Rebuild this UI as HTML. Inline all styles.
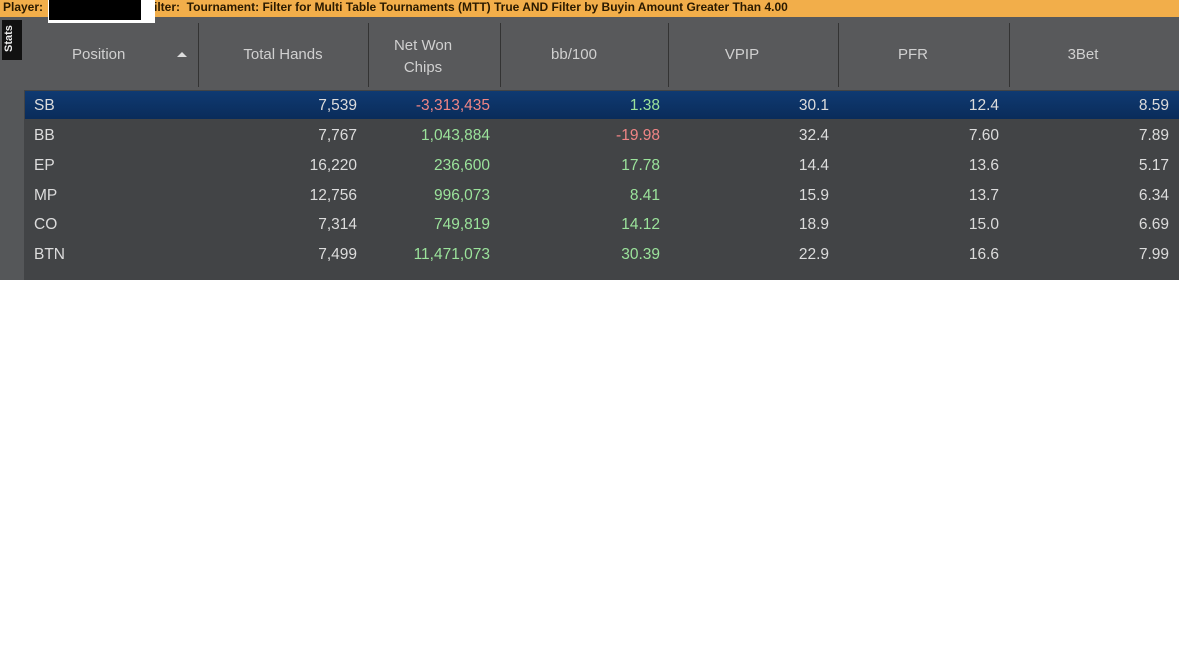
<!DOCTYPE html>
<html><head><meta charset="utf-8"><style>
body{margin:0;width:1179px;height:648px;background:#fff;position:relative;overflow:hidden;font-family:"Liberation Sans",sans-serif;}
.a{position:absolute;}
#top{left:0;top:0;width:1179px;height:17px;background:#f2ae4a;font-size:12px;font-weight:bold;color:#2a1a00;line-height:14px;}
#hdr{left:0;top:17px;width:1179px;height:73px;background:#58595b;}
#body{left:0;top:90px;width:1179px;height:190px;background:#424446;}
#strip{left:0;top:90px;width:24px;height:190px;background:#555759;}
.sep{top:23px;width:1px;height:64px;background:#333;}
.h{color:#d0d0d0;font-size:15px;text-align:center;}
.c{font-size:15.5px;color:#dcdcdc;text-align:right;width:120px;line-height:18px;}
.g{color:#9be39b;}.r{color:#f08585;}
.l{font-size:15.5px;color:#dcdcdc;line-height:18px;}
#sel{left:25px;top:91px;width:1154px;height:28px;background:linear-gradient(#0f3a72,#0a2c5a);}
</style></head><body>
<div class="a" id="top"><span style="position:absolute;left:3px;top:0">Player:</span><span style="position:absolute;left:140px;top:0">, Filter:&nbsp; Tournament: Filter for Multi Table Tournaments (MTT) True AND Filter by Buyin Amount Greater Than 4.00</span></div>
<div class="a" style="left:48px;top:0;width:107px;height:23px;background:#fff"></div>
<div class="a" style="left:49px;top:0;width:92px;height:20px;background:#000"></div>
<div class="a" id="hdr" style="z-index:-1"></div>
<div class="a" id="body"></div>
<div class="a" id="strip"></div>
<div class="a" style="left:2px;top:20px;width:20px;height:40px;background:#111;"></div>
<div class="a" style="left:3px;top:52px;transform:rotate(-90deg);transform-origin:0 0;color:#eee;font-size:11px;font-weight:bold;">Stats</div>
<div class="a sep" style="left:198px"></div><div class="a sep" style="left:368px"></div><div class="a sep" style="left:500px"></div><div class="a sep" style="left:668px"></div><div class="a sep" style="left:838px"></div><div class="a sep" style="left:1009px"></div>
<div class="a h" style="left:72px;top:46px">Position</div>
<div class="a" style="left:177px;top:52px;width:0;height:0;border-left:5px solid transparent;border-right:5px solid transparent;border-bottom:5px solid #ddd"></div>
<div class="a h" style="left:198px;width:170px;top:46px">Total Hands</div>
<div class="a h" style="left:368px;width:110px;top:35px;line-height:22px">Net Won<br>Chips</div>
<div class="a h" style="left:500px;width:148px;top:46px">bb/100</div>
<div class="a h" style="left:668px;width:148px;top:46px">VPIP</div>
<div class="a h" style="left:838px;width:150px;top:46px">PFR</div>
<div class="a h" style="left:1009px;width:148px;top:46px">3Bet</div>
<div class="a" id="sel"></div>
<div id="rows"></div>
<script>
var d=[["SB","7,539","-3,313,435","1.38","30.1","12.4","8.59"],["BB","7,767","1,043,884","-19.98","32.4","7.60","7.89"],["EP","16,220","236,600","17.78","14.4","13.6","5.17"],["MP","12,756","996,073","8.41","15.9","13.7","6.34"],["CO","7,314","749,819","14.12","18.9","15.0","6.69"],["BTN","7,499","11,471,073","30.39","22.9","16.6","7.99"]];
var ys=[97,127,157,187,216,246],rx=[357,490,660,829,999,1169],h="";
d.forEach(function(r,i){h+='<div class="a l" style="left:34px;top:'+ys[i]+'px">'+r[0]+'</div>';
for(var j=1;j<7;j++){var cl="c";if(j==2||j==3)cl+=r[j][0]=="-"?" r":" g";
h+='<div class="a '+cl+'" style="left:'+(rx[j-1]-120)+'px;top:'+ys[i]+'px">'+r[j]+'</div>';}});
document.getElementById("rows").innerHTML=h;
</script>
</body></html>
